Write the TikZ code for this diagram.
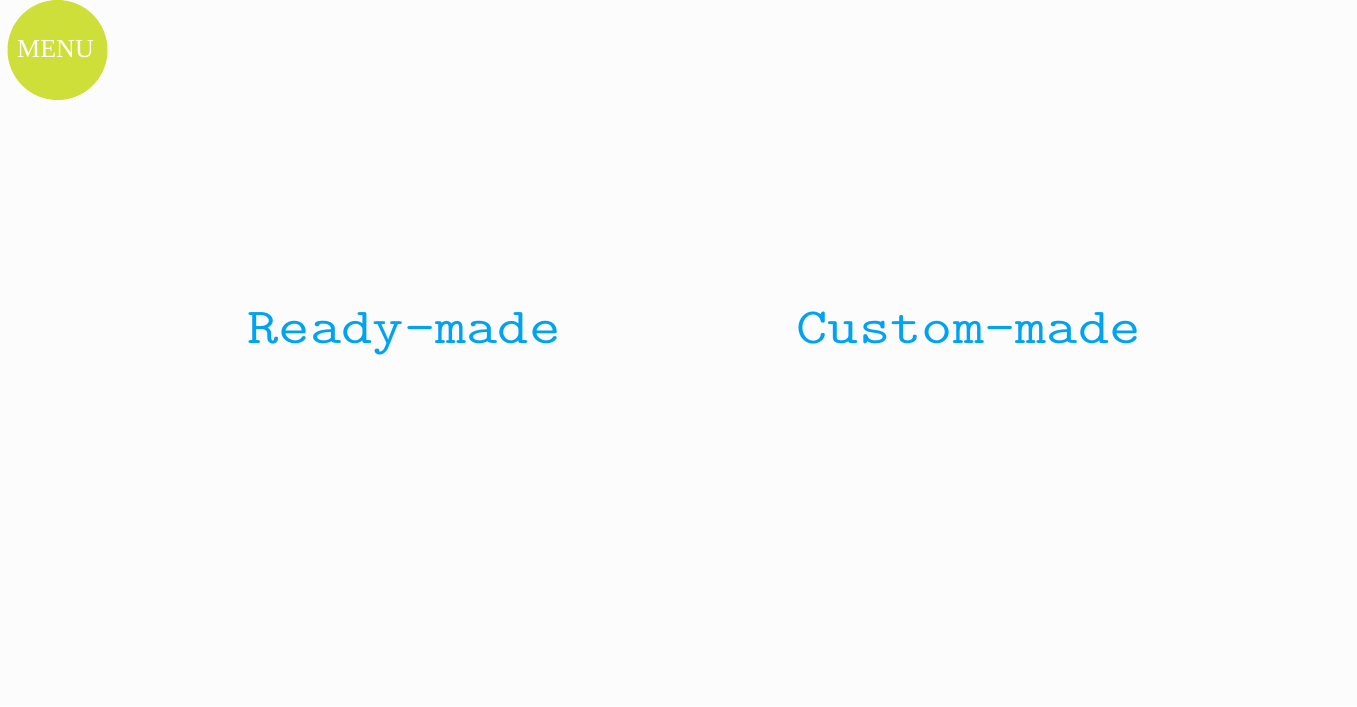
\documentclass[tikz,border=0pt]{standalone}
\usepackage{fontspec}
\setmainfont{Liberation Serif}
\newfontfamily\choicefont[FakeStretch=1.2]{Latin Modern Mono}
\usepackage{tikz}
\usetikzlibrary{positioning}
\definecolor{menulime}{HTML}{CFDF3A}
\definecolor{choicecyan}{HTML}{00A2F2}
\definecolor{pagebg}{HTML}{FCFCFC}

\begin{document}
\begin{tikzpicture}[
    menubtn/.style={circle, fill=menulime, minimum size=1cm, inner sep=0pt},
    menutext/.style={font=\fontsize{7.4}{8}\selectfont, text=white, inner sep=0pt, anchor=base},
    choice/.style={font=\choicefont\fontsize{14.4}{16}\selectfont, text=choicecyan, inner sep=0pt, anchor=base west}
  ]
  % -- 1. PAGE --
  \fill[pagebg] (0,0) rectangle (13.57,7.06);
  \useasboundingbox (0,0) rectangle (13.57,7.06);

  % -- 2. MENU BUTTON --
  \node[menubtn] (menu) at (0.575,6.56) {};
  \node[menutext] (menulabel) at (0.555,6.49) {MENU};

  % -- 3. CHOICES --
  \node[choice] (ready) at (2.47,3.63) {Ready-made};
  \node[choice] (custom) at (7.96,3.63) {Custom-made};
\end{tikzpicture}
\end{document}
